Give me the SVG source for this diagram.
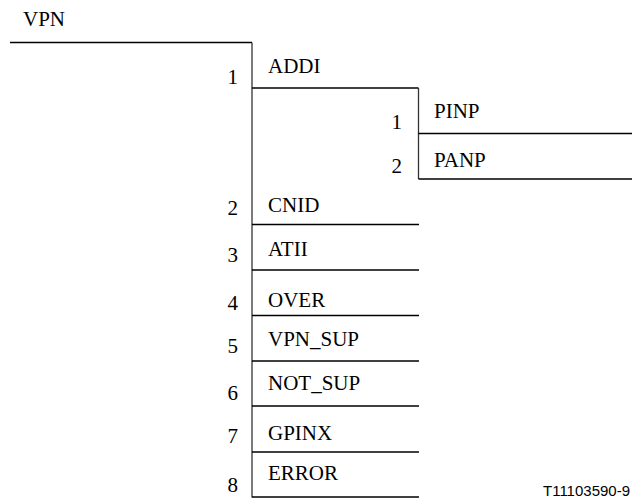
<svg xmlns="http://www.w3.org/2000/svg" width="632" height="499" viewBox="0 0 632 499">
<style>
text.lbl, text.num{font-family:'Liberation Serif','Times New Roman',serif;font-size:21px;fill:#000}
text.num{text-anchor:end}
.h{stroke:#000;stroke-width:1.5;fill:none}
.v{stroke:#333;stroke-width:1.3;fill:none}
text.ref{font-family:'Liberation Sans',Arial,sans-serif;font-size:15px;fill:#000;text-anchor:end}
</style>
<rect width="632" height="499" fill="#fff"/>
<g id="connectors">
<path class="h" d="M10 42.5H252"/>
<path class="v" d="M252 42.5V497.5"/>
<path class="h" d="M252 88H418.5"/>
<path class="v" d="M418.5 88V179"/>
<path class="h" d="M418.5 133.5H632"/>
<path class="h" d="M418.5 179H632"/>
<path class="h" d="M252 224.5H419"/>
<path class="h" d="M252 270H419"/>
<path class="h" d="M252 315.5H419"/>
<path class="h" d="M252 361H419"/>
<path class="h" d="M252 406H419"/>
<path class="h" d="M252 452H419"/>
<path class="h" d="M252 497H419"/>
</g>
<g id="VPN"><text class="lbl" x="23" y="26">VPN</text></g>
<g id="ADDI"><text class="num" x="238" y="84">1</text><text class="lbl" x="268" y="73">ADDI</text></g>
<g id="PINP"><text class="num" x="402" y="129">1</text><text class="lbl" x="434" y="118">PINP</text></g>
<g id="PANP"><text class="num" x="402" y="173">2</text><text class="lbl" x="434" y="167">PANP</text></g>
<g id="CNID"><text class="num" x="238" y="215">2</text><text class="lbl" x="268" y="212">CNID</text></g>
<g id="ATII"><text class="num" x="238" y="262">3</text><text class="lbl" x="268" y="256">ATII</text></g>
<g id="OVER"><text class="num" x="238" y="310">4</text><text class="lbl" x="268" y="307">OVER</text></g>
<g id="VPN_SUP"><text class="num" x="238" y="353">5</text><text class="lbl" x="268" y="346">VPN_SUP</text></g>
<g id="NOT_SUP"><text class="num" x="238" y="400">6</text><text class="lbl" x="268" y="390">NOT_SUP</text></g>
<g id="GPINX"><text class="num" x="238" y="443">7</text><text class="lbl" x="268" y="440">GPINX</text></g>
<g id="ERROR"><text class="num" x="238" y="492">8</text><text class="lbl" x="268" y="480">ERROR</text></g>
<text class="ref" x="630" y="496">T11103590-9</text>
</svg>
